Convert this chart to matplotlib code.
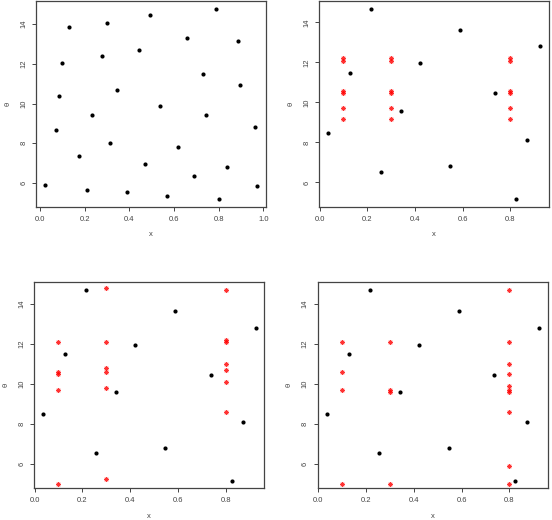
import matplotlib
matplotlib.use("Agg")
import matplotlib.pyplot as plt

plt.rcParams['font.family'] = ['Liberation Sans', 'DejaVu Sans']

# Panel 1: space-filling design (x, theta)
design_x = [0.022, 0.071, 0.086, 0.100, 0.131, 0.174, 0.211, 0.231, 0.280, 0.299,
            0.315, 0.345, 0.388, 0.442, 0.469, 0.493, 0.536, 0.570, 0.618, 0.658,
            0.688, 0.728, 0.744, 0.786, 0.799, 0.835, 0.884, 0.893, 0.960, 0.972]
design_theta = [5.92, 8.68, 10.40, 12.02, 13.87, 7.38, 5.66, 9.44, 12.41, 14.05,
                8.03, 10.68, 5.55, 12.69, 6.94, 14.44, 9.86, 5.35, 7.81, 13.32,
                6.35, 11.49, 9.42, 14.78, 5.18, 6.82, 13.13, 10.95, 8.82, 5.87]

# Black points shared by panels 2-4
obs_x = [0.037, 0.129, 0.217, 0.256, 0.342, 0.421, 0.547, 0.588, 0.736, 0.825, 0.872, 0.925]
obs_theta = [8.48, 11.48, 14.68, 6.53, 9.58, 11.95, 6.80, 13.63, 10.45, 5.15, 8.10, 12.80]

# Red points: panel 2
p2_x = [0.1] * 6 + [0.3] * 6 + [0.8] * 6
p2_theta = [12.22, 12.08, 10.56, 10.48, 9.70, 9.15] * 3

# Red points: panel 3
p3_x = [0.1] * 5 + [0.3] * 6 + [0.8] * 7
p3_theta = [12.09, 10.58, 10.50, 9.71, 5.01,
            14.80, 12.09, 10.81, 10.61, 9.81, 5.22,
            14.70, 12.21, 12.11, 11.01, 10.71, 10.11, 8.60]

# Red points: panel 4
p4_x = [0.1] * 4 + [0.3] * 4 + [0.8] * 10
p4_theta = [12.09, 10.57, 9.71, 5.01,
            12.09, 9.71, 9.60, 5.01,
            14.70, 12.09, 11.01, 10.51, 9.91, 9.71, 9.60, 8.60, 5.90, 5.01]

yticks = [6, 8, 10, 12, 14]
xticks1 = [0.0, 0.2, 0.4, 0.6, 0.8, 1.0]
xticks2 = [0.0, 0.2, 0.4, 0.6, 0.8]

W, H = 552, 520
fig = plt.figure(figsize=(W / 100, H / 100), dpi=100)

def px_axes(left, top, right, bottom):
    return fig.add_axes([left / W, 1 - bottom / H, (right - left) / W, (bottom - top) / H])

axes_specs = [
    (36.3, 1, 265.7, 207),
    (319.3, 1, 548.7, 207),
    (34.3, 282.3, 264.3, 488.3),
    (317.7, 282.3, 548.0, 488.3),
]
axs = [px_axes(*s) for s in axes_specs]

for i, ax in enumerate(axs):
    for sp in ax.spines.values():
        sp.set_color('#444444')
        sp.set_linewidth(0.9)
    ax.tick_params(direction='out', length=2.6, width=0.7, colors='#444444',
                   labelsize=5.5, labelcolor='#444444')
    ax.tick_params(axis='y', pad=4.0)
    ax.tick_params(axis='x', pad=4.0)
    ax.set_yticks(yticks)
    ax.set_yticklabels([str(v) for v in yticks], rotation=90, va='center')
    ax.set_xlabel('x', fontsize=5.5, color='#444444', va='center')
    ax.set_ylabel('θ', fontsize=5.5, color='#444444', va='center')
    ax.xaxis.set_label_coords(0.5, -0.135)
    ax.yaxis.set_label_coords(-0.122, 0.5)

ax = axs[0]
ax.scatter(design_x, design_theta, s=9, c='black', linewidths=0)
ax.set_xlim(-0.016, 1.010)
ax.set_ylim(4.80, 15.16)
ax.set_xticks(xticks1)
ax.set_xticklabels([f'{v:.1f}' for v in xticks1])

for ax, rx, ry in [(axs[1], p2_x, p2_theta), (axs[2], p3_x, p3_theta), (axs[3], p4_x, p4_theta)]:
    ax.scatter(obs_x, obs_theta, s=9, c='black', linewidths=0, zorder=3)
    ax.scatter(rx, ry, s=8, c='red', marker=(8, 2, 0), linewidths=0.7, alpha=0.8, zorder=2)
    ax.set_xlim(-0.001, 0.961)
    ax.set_ylim(4.77, 15.07)
    ax.set_xticks(xticks2)
    ax.set_xticklabels([f'{v:.1f}' for v in xticks2])

fig.savefig('out.png', dpi=100)
